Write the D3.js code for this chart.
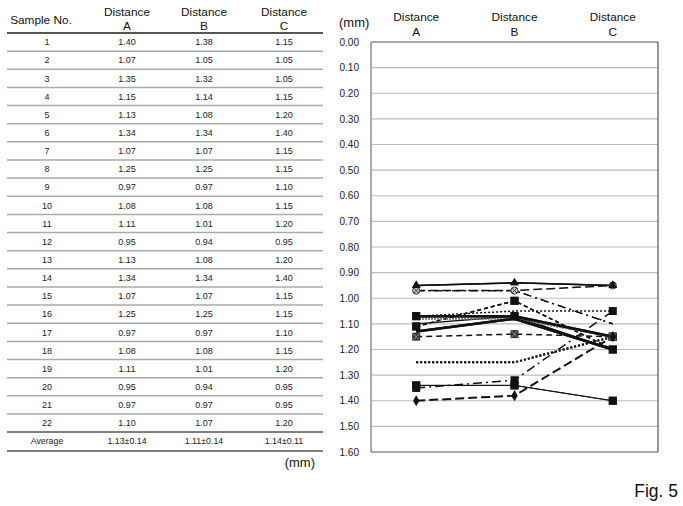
<!DOCTYPE html>
<html><head><meta charset="utf-8">
<script src="https://cdn.jsdelivr.net/npm/d3@7"></script>
<style>body{margin:0;background:#fff}svg{display:block;font-family:"Liberation Sans",Arial,sans-serif}</style>
</head><body>
<script>
const samples = ["1","2","3","4","5","6","7","8","9","10","11","12","13","14","15","16","17","18","19","20","21","22"];
const distA = [1.40,1.07,1.35,1.15,1.13,1.34,1.07,1.25,0.97,1.08,1.11,0.95,1.13,1.34,1.07,1.25,0.97,1.08,1.11,0.95,0.97,1.10];
const distB = [1.38,1.05,1.32,1.14,1.08,1.34,1.07,1.25,0.97,1.08,1.01,0.94,1.08,1.34,1.07,1.25,0.97,1.08,1.01,0.94,0.97,1.07];
const distC = [1.15,1.05,1.05,1.15,1.20,1.40,1.15,1.15,1.10,1.15,1.20,0.95,1.20,1.40,1.15,1.15,1.10,1.15,1.20,0.95,0.95,1.20];
const averages = ["1.13±0.14","1.11±0.14","1.14±0.11"];
const categories = ["A","B","C"];
const yTicks = d3.range(0, 17).map(i => i / 10);

// line styles per sample (dash pattern, width, marker)
const styleOf = {
  "1":{dash:"9,4",w:2,m:"diamond"}, "2":{dash:"2,2",w:1.5,m:"none"}, "3":{dash:"9,4,2,4",w:1.5,m:"square"},
  "4":{dash:"6,4",w:1.5,m:"squarex"}, "5":{dash:null,w:2.5,m:"none"}, "6":{dash:null,w:1,m:"square"},
  "7":{dash:null,w:2.5,m:"square"}, "8":{dash:"2,2",w:2,m:"none"}, "9":{dash:"8,4,2,4",w:1.3,m:"none"},
  "10":{dash:"1.5,1.5",w:2,m:"none",c:"#777"}, "11":{dash:"4,3",w:1.5,m:"square"}, "12":{dash:null,w:1.5,m:"triangle"},
  "13":{dash:null,w:2.5,m:"none"}, "14":{dash:null,w:1,m:"square"}, "15":{dash:null,w:2.5,m:"square"},
  "16":{dash:"2,2",w:2,m:"none"}, "17":{dash:"8,4,2,4",w:1.3,m:"none"}, "18":{dash:"1.5,1.5",w:2,m:"none",c:"#777"},
  "19":{dash:"4,3",w:1.5,m:"square"}, "20":{dash:null,w:1.5,m:"triangle"}, "21":{dash:"9,4",w:1.5,m:"circlex"},
  "22":{dash:null,w:1.5,m:"none"}
};

const W = 683, H = 506;
const svg = d3.select("body").append("svg").attr("width", W).attr("height", H);

// ---------- TABLE ----------
const tLeft = 7, tRight = 323, tHead = 33, tRowH = 18.14;
const colX = [47, 127, 204, 284];
const tRow = d3.scaleBand().domain(samples).range([tHead, tHead + tRowH * samples.length]);
const tg = svg.append("g");
tg.append("text").attr("x", 41).attr("y", 24).attr("text-anchor", "middle").attr("font-size", 11.8).attr("fill", "#111").text("Sample No.");
categories.forEach((c, i) => {
  tg.append("text").attr("x", colX[i+1]).attr("y", 16).attr("text-anchor", "middle").attr("font-size", 11.8).attr("fill", "#111").text("Distance");
  tg.append("text").attr("x", colX[i+1]).attr("y", 30).attr("text-anchor", "middle").attr("font-size", 11.8).attr("fill", "#111").text(c);
});
samples.forEach((s, i) => {
  const y0 = tRow(s), yc = y0 + tRow.bandwidth() / 2;
  const vals = [s, distA[i].toFixed(2), distB[i].toFixed(2), distC[i].toFixed(2)];
  vals.forEach((v, j) => tg.append("text").attr("x", colX[j]).attr("y", yc + 3.2).attr("text-anchor", "middle").attr("font-size", 9).attr("fill", "#222").text(v));
  if (i < samples.length - 1)
    tg.append("line").attr("x1", tLeft).attr("x2", tRight).attr("y1", y0 + tRow.bandwidth()).attr("y2", y0 + tRow.bandwidth()).attr("stroke", "#aaa").attr("stroke-width", 1.5);
});
const yLast = tHead + tRowH * samples.length;
const yAvgBot = yLast + 18.8;
tg.append("line").attr("x1", tLeft).attr("x2", tRight).attr("y1", tHead).attr("y2", tHead).attr("stroke", "#555").attr("stroke-width", 2);
tg.append("line").attr("x1", tLeft).attr("x2", tRight).attr("y1", yLast).attr("y2", yLast).attr("stroke", "#555").attr("stroke-width", 1.5);
tg.append("line").attr("x1", tLeft).attr("x2", tRight).attr("y1", yAvgBot).attr("y2", yAvgBot).attr("stroke", "#555").attr("stroke-width", 1.5);
tg.append("text").attr("x", colX[0]).attr("y", (yLast + yAvgBot) / 2 + 3).attr("text-anchor", "middle").attr("font-size", 8.8).attr("fill", "#222").text("Average");
averages.forEach((a, j) => tg.append("text").attr("x", colX[j+1]).attr("y", (yLast + yAvgBot) / 2 + 3).attr("text-anchor", "middle").attr("font-size", 8.8).attr("fill", "#222").text(a));
tg.append("text").attr("x", 315).attr("y", 467).attr("text-anchor", "end").attr("font-size", 13).attr("fill", "#111").text("(mm)");

// ---------- CHART ----------
const pL = 371, pR = 658, pT = 42, pB = 452;
const x = d3.scalePoint().domain(categories).range([pL, pR]).padding(0.46);
const y = d3.scaleLinear().domain([0, 1.6]).range([pT, pB]);
const g = svg.append("g");

// gridlines
g.selectAll(".grid").data(yTicks.slice(1, -1)).join("line")
  .attr("x1", pL).attr("x2", pR).attr("y1", d => y(d)).attr("y2", d => y(d))
  .attr("stroke", "#bbb").attr("stroke-width", 1.2);

// y axis labels
const yAxis = d3.axisLeft(y).tickValues(yTicks).tickFormat(d3.format(".2f")).tickSize(0).tickPadding(0);
const ya = g.append("g").attr("transform", `translate(359,0)`).call(yAxis);
ya.select(".domain").remove();
ya.selectAll("text").attr("font-size", 10).attr("fill", "#222").attr("font-family", "Liberation Sans, Arial, sans-serif");

// frame
g.append("line").attr("x1", pL).attr("x2", pL).attr("y1", pT).attr("y2", pB).attr("stroke", "#aaa").attr("stroke-width", 2);
g.append("line").attr("x1", pL).attr("x2", pR).attr("y1", pT).attr("y2", pT).attr("stroke", "#555").attr("stroke-width", 1.2);
g.append("line").attr("x1", pR).attr("x2", pR).attr("y1", pT).attr("y2", pB).attr("stroke", "#555").attr("stroke-width", 1.2);
g.append("line").attr("x1", pL).attr("x2", pR).attr("y1", pB).attr("y2", pB).attr("stroke", "#555").attr("stroke-width", 1.2);

// category header labels
categories.forEach(c => {
  g.append("text").attr("x", x(c)).attr("y", 21).attr("text-anchor", "middle").attr("font-size", 11.8).attr("fill", "#111").text("Distance");
  g.append("text").attr("x", x(c)).attr("y", 36).attr("text-anchor", "middle").attr("font-size", 11.8).attr("fill", "#111").text(c);
});
g.append("text").attr("x", 339).attr("y", 27).attr("font-size", 13).attr("fill", "#111").text("(mm)");

// lines
const line = d3.line().x(d => x(d.k)).y(d => y(d.v));
const series = samples.map((s, i) => ({s, pts: [{k:"A",v:distA[i]},{k:"B",v:distB[i]},{k:"C",v:distC[i]}]}));
const drawOrder = series.slice().reverse();
drawOrder.forEach(d => {
  const st = styleOf[d.s];
  g.append("path").attr("d", line(d.pts)).attr("fill", "none")
    .attr("stroke", st.c || "#111").attr("stroke-width", st.w)
    .attr("stroke-dasharray", st.dash);
});
// markers
drawOrder.forEach(d => {
  const st = styleOf[d.s];
  d.pts.forEach(p => {
    const cx = x(p.k), cy = y(p.v);
    if (st.m === "square") g.append("rect").attr("x", cx - 4).attr("y", cy - 4).attr("width", 8).attr("height", 8).attr("fill", "#111");
    else if (st.m === "diamond") g.append("path").attr("d", d3.symbol(d3.symbolDiamond, 36)()).attr("transform", `translate(${cx},${cy})`).attr("fill", "#111");
    else if (st.m === "triangle") g.append("path").attr("d", d3.symbol(d3.symbolTriangle, 32)()).attr("transform", `translate(${cx},${cy})`).attr("fill", "#111");
    else if (st.m === "squarex") {
      g.append("rect").attr("x", cx - 4).attr("y", cy - 4).attr("width", 8).attr("height", 8).attr("fill", "#333");
      g.append("path").attr("d", `M${cx-3},${cy-3}L${cx+3},${cy+3}M${cx+3},${cy-3}L${cx-3},${cy+3}`).attr("stroke", "#999").attr("stroke-width", 1);
    } else if (st.m === "circlex") {
      g.append("circle").attr("cx", cx).attr("cy", cy).attr("r", 3.6).attr("fill", "#ccc").attr("stroke", "#333").attr("stroke-width", 1);
      g.append("path").attr("d", `M${cx-2.5},${cy-2.5}L${cx+2.5},${cy+2.5}M${cx+2.5},${cy-2.5}L${cx-2.5},${cy+2.5}`).attr("stroke", "#333").attr("stroke-width", 1);
    }
  });
});

svg.append("text").attr("x", 678).attr("y", 497).attr("text-anchor", "end").attr("font-size", 17.5).attr("fill", "#111").text("Fig. 5");
</script>
</body></html>
